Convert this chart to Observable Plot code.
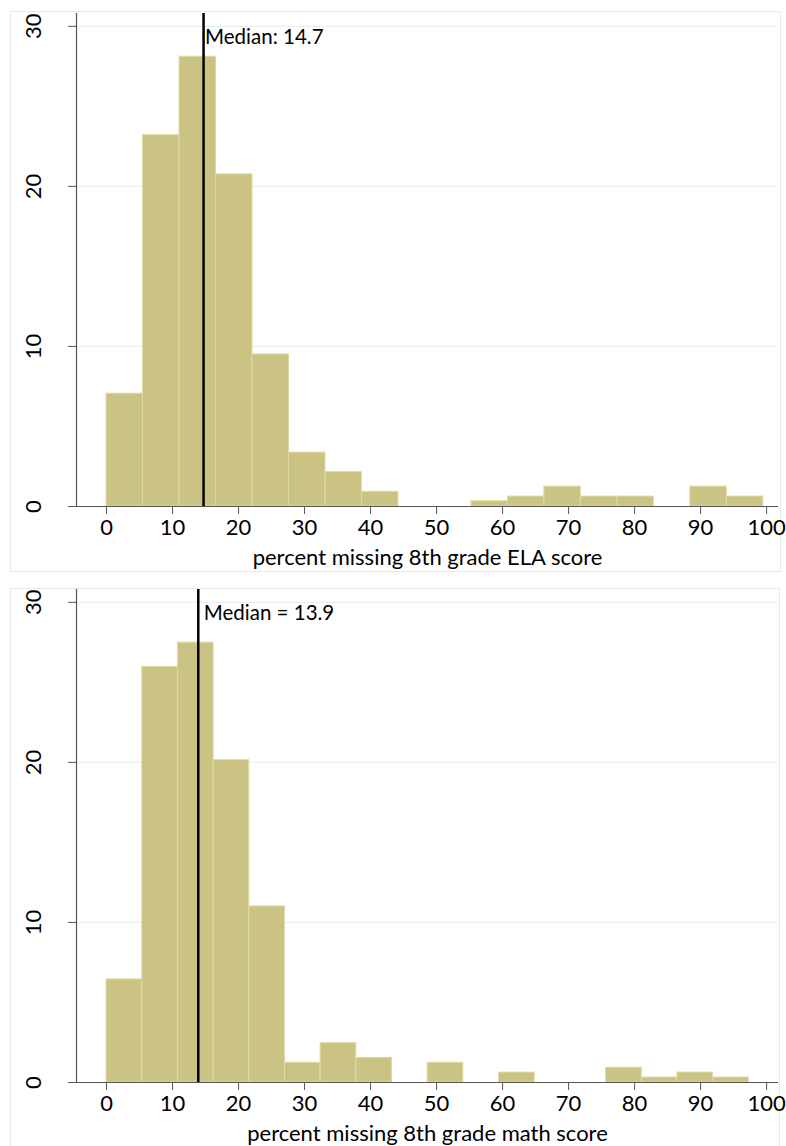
<!DOCTYPE html>
<html>
<head>
<meta charset="utf-8">
<script src="https://cdn.jsdelivr.net/npm/d3@7"></script>
<script src="https://cdn.jsdelivr.net/npm/@observablehq/plot@0.6"></script>
<style>
  html, body { margin: 0; padding: 0; background: #fff; }
  #wrap { position: relative; width: 786px; height: 1146px; overflow: hidden; background: #fff; }
  .box { position: absolute; border: 1px solid #e4ecee; box-sizing: border-box; }
  .panel { position: absolute; left: 0; }
</style>
</head>
<body>
<div id="wrap">
  <div class="box" style="left:10px; top:11px; width:771px; height:561px;"></div>
  <div class="box" style="left:10px; top:588px; width:770px; height:570px;"></div>
  <div class="panel" id="p1" style="top:0px;"></div>
  <div class="panel" id="p2" style="top:576px;"></div>
</div>
<script>
// ---- data ----
const xTicks = [0, 10, 20, 30, 40, 50, 60, 70, 80, 90, 100];
const yTicks = [0, 10, 20, 30];
const yGrid = [10, 20, 30];
const xDomain = [-4.55, 101.8];
const yDomain = [0, 30.8];

// ELA: bin edges (18 bins) and bar heights (percent)
const elaEdges = [0, 5.53, 11.06, 16.58, 22.11, 27.64, 33.17, 38.69, 44.22, 49.75,
                  55.28, 60.81, 66.33, 71.86, 77.39, 82.92, 88.44, 93.97, 99.5];
const elaHeights = [7.05, 23.2, 28.1, 20.75, 9.5, 3.37, 2.15, 0.92, 0, 0,
                    0.33, 0.62, 1.24, 0.62, 0.62, 0, 1.24, 0.62];
const elaMedian = 14.7;
const elaMedianLabel = "Median: 14.7";
const elaTitle = "percent missing 8th grade ELA score";

// Math: bin edges (18 bins) and bar heights (percent)
const mathEdges = [0, 5.41, 10.81, 16.22, 21.62, 27.03, 32.43, 37.84, 43.24, 48.65,
                   54.05, 59.46, 64.86, 70.27, 75.68, 81.08, 86.49, 91.89, 97.3];
const mathHeights = [6.44, 25.96, 27.48, 20.14, 11.0, 1.23, 2.46, 1.54, 0, 1.23,
                     0, 0.62, 0, 0, 0.92, 0.31, 0.62, 0.31];
const mathMedian = 13.9;
const mathMedianLabel = "Median = 13.9";
const mathTitle = "percent missing 8th grade math score";

const barFill = "#cbc383";
const barStroke = "#dedaa6";
const axisColor = "#555";
const gridColor = "#e8f0f1";
const font = "Lato, 'Open Sans', sans-serif";

function panel(edges, heights, median, medianLabel, title, labelDx) {
  const bins = heights.map((h, i) => ({x1: edges[i], x2: edges[i + 1], y: h}));
  return Plot.plot({
    width: 786,
    height: 576,
    marginLeft: 76,
    marginRight: 8,
    marginTop: 13,
    marginBottom: 70,
    style: {fontFamily: font, background: "transparent", color: "#000", overflow: "visible"},
    x: {domain: xDomain},
    y: {domain: yDomain},
    marks: [
      Plot.gridY(yGrid, {stroke: gridColor, strokeOpacity: 1, strokeWidth: 1.2}),
      Plot.rectY(bins, {x1: "x1", x2: "x2", y: "y", fill: barFill, stroke: barStroke, strokeWidth: 1, inset: 0}),
      Plot.ruleX([median], {stroke: "#000", strokeWidth: 2.5}),
      Plot.text([{m: median, label: medianLabel}], {
        x: "m", text: "label", frameAnchor: "top", dy: 16, dx: labelDx,
        textAnchor: "start", fontSize: 20.5, fill: "#000"
      }),
      Plot.ruleY([0], {stroke: axisColor, strokeWidth: 1.2}),
      Plot.ruleX([xDomain[0]], {stroke: axisColor, strokeWidth: 1.2}),
      Plot.axisX({ticks: xTicks, tickSize: 8, tickPadding: 5, fontSize: 22, stroke: axisColor, fill: "#000", label: null}),
      Plot.axisY({ticks: yTicks, tickSize: 8, tickRotate: -90, tickPadding: 28, fontSize: 22, stroke: axisColor, fill: "#000", label: null}),
      Plot.text([title], {frameAnchor: "bottom", dy: 58, fontSize: 22, fill: "#000"})
    ]
  });
}

document.getElementById("p1").appendChild(panel(elaEdges, elaHeights, elaMedian, elaMedianLabel, elaTitle, 1.5));
document.getElementById("p2").appendChild(panel(mathEdges, mathHeights, mathMedian, mathMedianLabel, mathTitle, 5.5));
</script>
</body>
</html>
